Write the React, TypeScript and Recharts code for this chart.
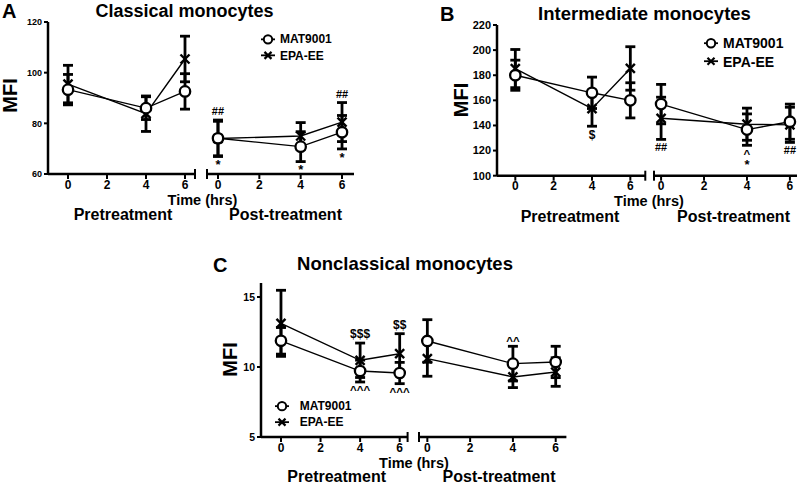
import React from "react"
import { LineChart, Line, XAxis, YAxis, ErrorBar, LabelList, Legend } from "recharts"

const FONT = "Arial, 'Liberation Sans', Helvetica, sans-serif"

const times = [0, 4, 6]
const xTicks = [0, 2, 4, 6]
const seriesNames = ["MAT9001", "EPA-EE"]

// A: classical monocytes
const aYTicks = [60, 80, 100, 120]
const aPreMat = [93.3, 86.0, 92.6]
const aPreMatErr = [6.0, 4.5, 7.0]
const aPreEpa = [95.5, 83.8, 105.4]
const aPreEpaErr = [7.4, 7.0, 9.0]
const aPostMat = [74.1, 70.8, 76.5]
const aPostMatErr = [7.2, 5.9, 6.6]
const aPostEpa = [74.0, 75.0, 80.5]
const aPostEpaErr = [6.8, 5.3, 7.7]
const aPreAbove = ["", "", ""]
const aPreBelow = ["", "", ""]
const aPostAbove = ["##", "", "##"]
const aPostBelow = ["*", "*", "*"]

// B: intermediate monocytes
const bYTicks = [100, 120, 140, 160, 180, 200, 220]
const bPreMat = [180, 166, 160]
const bPreMatErr = [12, 12.5, 14]
const bPreEpa = [185.3, 153.4, 185.4]
const bPreEpaErr = [15.2, 14, 17.3]
const bPostMat = [157, 136.7, 143]
const bPostMatErr = [15.7, 12.5, 14]
const bPostEpa = [145.7, 141, 140.5]
const bPostEpaErr = [16.8, 12.8, 14]
const bPreAbove = ["", "", ""]
const bPreBelow = ["", "$", ""]
const bPostAbove = ["", "", ""]
const bPostBelow = ["##", "^\n*", "##"]

// C: nonclassical monocytes
const cYTicks = [5, 10, 15]
const cPreMat = [11.87, 9.71, 9.57]
const cPreMatErr = [0.95, 0.78, 0.76]
const cPreEpa = [13.12, 10.48, 10.95]
const cPreEpaErr = [2.36, 1.23, 1.43]
const cPostMat = [11.86, 10.24, 10.36]
const cPostMatErr = [1.52, 1.24, 1.12]
const cPostEpa = [10.6, 9.29, 9.64]
const cPostEpaErr = [1.26, 0.76, 1.02]
const cPreAbove = ["", "$$$", "$$"]
const cPreBelow = ["", "^^^", "^^^"]
const cPostAbove = ["", "^^", ""]
const cPostBelow = ["", "", ""]

function makeRows(mat: number[], matErr: number[], epa: number[], epaErr: number[], above: string[], below: string[]) {
  return times.map((t, i) => ({
    t,
    mat: mat[i],
    matErr: matErr[i],
    epa: epa[i],
    epaErr: epaErr[i],
    top: Math.max(mat[i] + matErr[i], epa[i] + epaErr[i]),
    bottom: Math.min(mat[i] - matErr[i], epa[i] - epaErr[i]),
    above: above[i],
    below: below[i],
  }))
}

const circleDot = (p: any) => (
  <circle key={`c${p.index}`} cx={p.cx} cy={p.cy} r={5.2} fill="#fff" stroke="#000" strokeWidth={2.3} />
)

const crossDot = (p: any) => (
  <g key={`x${p.index}`} stroke="#000" strokeWidth={2.4}>
    <line x1={p.cx - 4.5} y1={p.cy - 4.5} x2={p.cx + 4.5} y2={p.cy + 4.5} />
    <line x1={p.cx - 4.5} y1={p.cy + 4.5} x2={p.cx + 4.5} y2={p.cy - 4.5} />
  </g>
)

const noteSize = (ln: string) => (ln.includes("*") ? 13 : ln.includes("#") ? 11 : ln.startsWith("^") ? 11.5 : 12)

const noteContent = (side: "above" | "below") => (props: any) => {
  const vb = props.viewBox || {}
  const x = props.x ?? vb.x
  const y = props.y ?? vb.y
  const value = props.value
  if (!value || x == null || y == null) return null
  const lines = String(value).split("\n")
  const first = lines[0]
  const fs0 = noteSize(first)
  const base =
    side === "above"
      ? y - (first.startsWith("^") ? 1 : 5)
      : y + (first.includes("*") ? 3.5 : 4) + 0.72 * fs0
  return (
    <text key={`n${side}${props.index}`} x={x} y={base} textAnchor="middle" fontFamily={FONT} fontWeight={700} fill="#000">
      {lines.map((ln, k) => (
        <tspan key={k} x={x} dy={k === 0 ? 0 : 11.5} fontSize={noteSize(ln)}>
          {ln}
        </tspan>
      ))}
    </text>
  )
}

const makeXTick = (breaks: number[]) => (props: any) => {
  const { x, y, payload } = props
  const axisY = y - 6
  if (breaks.some((b) => Math.abs(b - payload.value) < 1e-6)) {
    return <line x1={x} x2={x} y1={axisY - 5} y2={axisY + 5} stroke="#000" strokeWidth={2} />
  }
  return (
    <g>
      <line x1={x} x2={x} y1={axisY} y2={axisY + 5} stroke="#000" strokeWidth={2} />
      <text x={x} y={axisY + 6 + 0.72 * 12} textAnchor="middle" fontFamily={FONT} fontWeight={700} fontSize={12} fill="#000">
        {payload.value}
      </text>
    </g>
  )
}

type LegendPos = { left: number; top: number; fontSize: number; rowH: number; gap: number }

const LegendBox = ({ fontSize, rowH, gap }: LegendPos) => (
  <div style={{ fontFamily: FONT, fontWeight: 700, fontSize, color: "#000", lineHeight: 1 }}>
    {seriesNames.map((n, i) => (
      <div key={n} style={{ display: "flex", alignItems: "center", height: rowH }}>
        <svg width={16} height={rowH} style={{ overflow: "visible" }}>
          <line x1={1} x2={15} y1={rowH / 2} y2={rowH / 2} stroke="#000" strokeWidth={1.8} />
          {i === 0 ? (
            <circle cx={8} cy={rowH / 2} r={4.2} fill="#fff" stroke="#000" strokeWidth={2} />
          ) : (
            <g stroke="#000" strokeWidth={2.2}>
              <line x1={4.5} y1={rowH / 2 - 3.5} x2={11.5} y2={rowH / 2 + 3.5} />
              <line x1={4.5} y1={rowH / 2 + 3.5} x2={11.5} y2={rowH / 2 - 3.5} />
            </g>
          )}
        </svg>
        <span style={{ marginLeft: gap }}>{n}</span>
      </div>
    ))}
  </div>
)

type Sub = {
  x0: number
  x1: number
  y0: number
  y1: number
  xMin: number
  xMax: number
  yMin: number
  yMax: number
  yTicks: number[]
  yFont: number
  showY: boolean
  data: ReturnType<typeof makeRows>
  legend?: LegendPos
}

function Subplot({ s }: { s: Sub }) {
  const L = s.showY ? 45 : 10
  const R = 10
  const T = 10
  const B = 30
  const width = s.x1 - s.x0 + L + R
  const height = s.y1 - s.y0 + T + B
  const ticks = s.showY ? [...xTicks, s.xMax] : [s.xMin, ...xTicks]
  const breaks = s.showY ? [s.xMax] : [s.xMin]
  return (
    <div style={{ position: "absolute", left: s.x0 - L, top: s.y0 - T }}>
      <LineChart width={width} height={height} data={s.data} margin={{ top: T, right: R, bottom: 0, left: s.showY ? 0 : L }}>
        <XAxis
          dataKey="t"
          type="number"
          domain={[s.xMin, s.xMax]}
          ticks={ticks}
          interval={0}
          height={B}
          tickSize={6}
          tickMargin={0}
          tickLine={false}
          axisLine={{ stroke: "#000", strokeWidth: 2.5 }}
          tick={makeXTick(breaks)}
        />
        <YAxis
          type="number"
          domain={[s.yMin, s.yMax]}
          ticks={s.yTicks}
          interval={0}
          hide={!s.showY}
          width={45}
          tickSize={4}
          tickMargin={2}
          axisLine={{ stroke: "#000", strokeWidth: 2.5 }}
          tickLine={{ stroke: "#000", strokeWidth: 2 }}
          tick={{ fill: "#000", fontSize: s.yFont, fontWeight: 700, fontFamily: FONT }}
        />
        <Line dataKey="epa" name="EPA-EE" stroke="#000" strokeWidth={1.4} dot={crossDot} activeDot={false} isAnimationActive={false}>
          <ErrorBar dataKey="epaErr" width={5} strokeWidth={2.8} stroke="#000" direction="y" />
        </Line>
        <Line dataKey="mat" name="MAT9001" stroke="#000" strokeWidth={1.4} dot={circleDot} activeDot={false} isAnimationActive={false}>
          <ErrorBar dataKey="matErr" width={5} strokeWidth={2.8} stroke="#000" direction="y" />
        </Line>
        <Line dataKey="top" stroke="none" dot={false} activeDot={false} legendType="none" isAnimationActive={false}>
          <LabelList dataKey="above" content={noteContent("above")} />
        </Line>
        <Line dataKey="bottom" stroke="none" dot={false} activeDot={false} legendType="none" isAnimationActive={false}>
          <LabelList dataKey="below" content={noteContent("below")} />
        </Line>
        {s.legend && (
          <Legend
            layout="vertical"
            align="center"
            verticalAlign="middle"
            wrapperStyle={{ left: s.legend.left, top: s.legend.top, width: "auto" }}
            content={() => <LegendBox {...(s.legend as LegendPos)} />}
          />
        )}
      </LineChart>
    </div>
  )
}

const subs: Sub[] = [
  {
    x0: 48, x1: 195, y0: 22, y1: 174, xMin: -1.026, xMax: 6.513, yMin: 60, yMax: 120,
    yTicks: aYTicks, yFont: 9, showY: true,
    data: makeRows(aPreMat, aPreMatErr, aPreEpa, aPreEpaErr, aPreAbove, aPreBelow),
  },
  {
    x0: 207, x1: 354, y0: 22, y1: 174, xMin: -0.532, xMax: 6.58, yMin: 60, yMax: 120,
    yTicks: aYTicks, yFont: 9, showY: false,
    data: makeRows(aPostMat, aPostMatErr, aPostEpa, aPostEpaErr, aPostAbove, aPostBelow),
    legend: { left: 63, top: 18.6, fontSize: 12, rowH: 16.7, gap: 4 },
  },
  {
    x0: 496.7, x1: 645, y0: 25, y1: 175.7, xMin: -0.955, xMax: 6.78, yMin: 100, yMax: 220,
    yTicks: bYTicks, yFont: 11, showY: true,
    data: makeRows(bPreMat, bPreMatErr, bPreEpa, bPreEpaErr, bPreAbove, bPreBelow),
  },
  {
    x0: 654, x1: 797, y0: 25, y1: 175.7, xMin: -0.33, xMax: 6.33, yMin: 100, yMax: 220,
    yTicks: bYTicks, yFont: 11, showY: false,
    data: makeRows(bPostMat, bPostMatErr, bPostEpa, bPostEpaErr, bPostAbove, bPostBelow),
    legend: { left: 59, top: 19.1, fontSize: 14, rowH: 18.4, gap: 4 },
  },
  {
    x0: 260.7, x1: 407.3, y0: 282.7, y1: 436.7, xMin: -1.01, xMax: 6.4, yMin: 5, yMax: 16,
    yTicks: cYTicks, yFont: 10.5, showY: true,
    data: makeRows(cPreMat, cPreMatErr, cPreEpa, cPreEpaErr, cPreAbove, cPreBelow),
    legend: { left: 58, top: 124.9, fontSize: 12, rowH: 16.3, gap: 10 },
  },
  {
    x0: 419.3, x1: 566.7, y0: 282.7, y1: 436.7, xMin: -0.39, xMax: 6.5, yMin: 5, yMax: 16,
    yTicks: cYTicks, yFont: 10.5, showY: false,
    data: makeRows(cPostMat, cPostMatErr, cPostEpa, cPostEpaErr, cPostAbove, cPostBelow),
  },
]

const txt = { fontFamily: FONT, fontWeight: 700, fill: "#000" } as const

export default function App() {
  return (
    <div style={{ position: "absolute", left: 0, top: 0, width: 800, height: 485, overflow: "hidden", background: "#fff" }}>
      {subs.map((s, i) => (
        <Subplot key={i} s={s} />
      ))}
      <svg width={800} height={485} style={{ position: "absolute", left: 0, top: 0, pointerEvents: "none" }}>
        <text {...txt} x={2} y={18} fontSize={20}>A</text>
        <text {...txt} x={184.5} y={16.5} fontSize={18} textAnchor="middle">Classical monocytes</text>
        <text {...txt} x={440} y={20.7} fontSize={20}>B</text>
        <text {...txt} x={644.5} y={19.5} fontSize={18.5} textAnchor="middle">Intermediate monocytes</text>
        <text {...txt} x={213} y={272} fontSize={20}>C</text>
        <text {...txt} x={405} y={269.5} fontSize={18.5} textAnchor="middle">Nonclassical monocytes</text>

        <text {...txt} fontSize={20} textAnchor="middle" transform="translate(17,95.5) rotate(-90)">MFI</text>
        <text {...txt} fontSize={20} textAnchor="middle" transform="translate(468,100) rotate(-90)">MFI</text>
        <text {...txt} fontSize={20} textAnchor="middle" transform="translate(237,359.5) rotate(-90)">MFI</text>

        <text {...txt} x={202.5} y={205} fontSize={14.5} textAnchor="middle">Time (hrs)</text>
        <text {...txt} x={649} y={205.5} fontSize={14.5} textAnchor="middle">Time (hrs)</text>
        <text {...txt} x={414} y={467.5} fontSize={14.5} textAnchor="middle">Time (hrs)</text>

        <text {...txt} x={123} y={220} fontSize={16} textAnchor="middle">Pretreatment</text>
        <text {...txt} x={285.5} y={220} fontSize={16} textAnchor="middle">Post-treatment</text>
        <text {...txt} x={570} y={221.5} fontSize={16} textAnchor="middle">Pretreatment</text>
        <text {...txt} x={733.5} y={221.5} fontSize={16} textAnchor="middle">Post-treatment</text>
        <text {...txt} x={336.7} y={482} fontSize={16} textAnchor="middle">Pretreatment</text>
        <text {...txt} x={499} y={482} fontSize={16} textAnchor="middle">Post-treatment</text>
      </svg>
    </div>
  )
}
